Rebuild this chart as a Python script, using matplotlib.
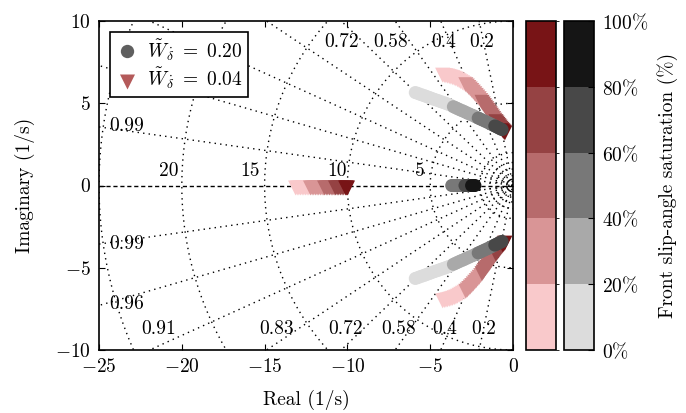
import numpy as np
import matplotlib
matplotlib.use('Agg')
import matplotlib.pyplot as plt
from matplotlib.colors import ListedColormap, BoundaryNorm
from matplotlib.cm import ScalarMappable
from matplotlib.lines import Line2D

plt.rcParams['font.family'] = ['cmr10', 'DejaVu Serif']
plt.rcParams['mathtext.fontset'] = 'cm'
plt.rcParams['axes.formatter.use_mathtext'] = True
plt.rcParams['font.size'] = 14

# saturation colour levels (0-20, 20-40, 40-60, 60-80, 80-100 %)
red_levels = ['#f9c9cb', '#d99596', '#b76b6c', '#954243', '#781416']
grey_levels = ['#dcdcdc', '#a9a9a9', '#787878', '#484848', '#151515']
sat_bounds = [0, 20, 40, 60, 80, 100]

# W = 0.20 (grey circles): complex branch (upper half, mirrored) and real pole
grey_cplx_re = [-5.9, -5.75, -5.6, -5.45, -5.3, -5.15, -5.0, -4.85, -4.7, -4.55, -4.4, -4.25, -4.1, -3.95, -3.8,
                -3.6, -3.45, -3.3, -3.15, -3.0, -2.85, -2.7, -2.55, -2.4, -2.25,
                -2.1, -1.95, -1.8, -1.65, -1.5, -1.35, -1.2,
                -1.1, -0.98, -0.86, -0.76, -0.66]
grey_cplx_im = [5.65, 5.60, 5.54, 5.49, 5.44, 5.38, 5.33, 5.27, 5.22, 5.17, 5.11, 5.06, 5.01, 4.95, 4.90,
                4.79, 4.72, 4.65, 4.58, 4.52, 4.45, 4.38, 4.31, 4.25, 4.17,
                4.10, 4.03, 3.96, 3.89, 3.82, 3.74, 3.67,
                3.62, 3.56, 3.50, 3.45, 3.40]
grey_cplx_sat = [1, 2, 3, 4, 5, 6, 7, 8, 9, 10, 12, 14, 15, 17, 19,
                 21, 23, 25, 27, 29, 31, 33, 35, 37, 39,
                 41, 44, 47, 50, 53, 56, 59,
                 61, 64, 67, 70, 73]
grey_real_re = [-3.7, -3.6, -3.5, -3.4, -3.3, -3.2, -3.1, -3.0,
                -2.9, -2.8, -2.7, -2.6, -2.5, -2.4, -2.3]
grey_real_sat = [41, 43, 46, 48, 51, 53, 56, 58,
                 62, 66, 70, 75, 82, 88, 95]

# W = 0.04 (red triangles): complex branch and real pole
red_cplx_re = [-4.25, -4.15, -4.05, -3.95, -3.85, -3.75, -3.65, -3.55, -3.45, -3.35, -3.25, -3.15, -3.05, -2.95,
               -2.85, -2.76, -2.67, -2.58, -2.49, -2.40, -2.31, -2.22, -2.13, -2.04, -1.95,
               -1.87, -1.80, -1.73, -1.66, -1.59, -1.52, -1.45, -1.38, -1.31, -1.24, -1.17, -1.10,
               -1.03, -0.97, -0.91, -0.85, -0.79, -0.73, -0.67,
               -0.61, -0.55, -0.49]
red_cplx_im = [6.86, 6.84, 6.82, 6.80, 6.77, 6.74, 6.71, 6.67, 6.63, 6.58, 6.52, 6.46, 6.40, 6.34,
               6.28, 6.20, 6.11, 6.02, 5.93, 5.83, 5.73, 5.63, 5.53, 5.43, 5.32,
               5.21, 5.11, 5.01, 4.91, 4.82, 4.72, 4.62, 4.52, 4.42, 4.32, 4.22, 4.12,
               4.03, 3.95, 3.87, 3.79, 3.71, 3.63, 3.56,
               3.48, 3.41, 3.35]
red_cplx_sat = [1, 2, 3, 5, 6, 7, 9, 10, 11, 13, 14, 16, 17, 19,
                21, 23, 24, 26, 28, 30, 31, 33, 35, 37, 39,
                41, 42, 44, 46, 47, 49, 51, 52, 54, 56, 57, 59,
                61, 64, 67, 70, 73, 76, 79,
                84, 90, 96]
red_real_re = [-13.13, -13.03, -12.93, -12.83, -12.73, -12.63, -12.53, -12.43, -12.33,
               -12.23, -12.13, -12.03, -11.93, -11.83, -11.73, -11.63, -11.53, -11.45,
               -11.38, -11.28, -11.18, -11.08, -10.98, -10.88, -10.8,
               -10.72, -10.62, -10.52, -10.42, -10.32, -10.22,
               -10.11, -10.05, -9.99]
red_real_sat = [2, 4, 6, 8, 10, 12, 14, 16, 18,
                21, 23, 25, 27, 29, 31, 33, 36, 39,
                41, 44, 47, 50, 53, 56, 59,
                62, 65, 68, 71, 74, 78,
                84, 90, 96]

# grid
zetas = [0.2, 0.4, 0.58, 0.72, 0.83, 0.91, 0.96, 0.99]
wn_circles = [0.25, 0.6, 1.0, 1.4, 2.0, 5, 10, 15, 20, 25]
wn_labels = ['20', '15', '10', '5']
wn_label_x = [-20.8, -15.9, -10.6, -5.6]
zeta_top = ['0.72', '0.58', '0.4', '0.2']
zeta_top_x = [-10.35, -7.4, -4.2, -1.9]
zeta_bot = ['0.91', '0.83', '0.72', '0.58', '0.4', '0.2']
zeta_bot_x = [-21.4, -14.3, -10.1, -6.9, -4.1, -1.75]
zeta_left = ['0.99', '0.99', '0.96']
zeta_left_y = [3.6, -3.55, -7.2]

cmap_red = ListedColormap(red_levels)
cmap_grey = ListedColormap(grey_levels)
norm = BoundaryNorm(sat_bounds, 5)

tri = [(-0.75, 0.5), (0.75, 0.5), (0.0, -1.0)]

fig = plt.figure(figsize=(6.86, 4.13), dpi=100)
ax = fig.add_axes([99 / 686, 63 / 413, 414 / 686, 329 / 413])

dot = (0, (1, 3))
for z in zetas:
    th = np.arccos(z)
    r = 40
    ax.plot([0, -r * np.cos(th)], [0, r * np.sin(th)], color='k', lw=1, ls=dot)
    ax.plot([0, -r * np.cos(th)], [0, -r * np.sin(th)], color='k', lw=1, ls=dot)
t = np.linspace(np.pi / 2, 3 * np.pi / 2, 300)
for w in wn_circles:
    ax.plot(w * np.cos(t), w * np.sin(t), color='k', lw=1, ls=dot)
ax.plot([-25, 0], [0, 0], color='k', lw=1, ls=(0, (3, 2)))

for lab, x in zip(wn_labels, wn_label_x):
    ax.text(x, 0.9, lab, ha='center', va='center')
for lab, x in zip(zeta_top, zeta_top_x):
    ax.text(x, 8.72, lab, ha='center', va='center')
for lab, x in zip(zeta_bot, zeta_bot_x):
    ax.text(x, -8.72, lab, ha='center', va='center')
for lab, y in zip(zeta_left, zeta_left_y):
    ax.text(-23.3, y, lab, ha='center', va='center')

# red triangles first, grey circles on top
rs = 207
gs = 88
kw_r = dict(cmap=cmap_red, norm=norm, marker=tri, s=rs, linewidths=0, zorder=3)
kw_g = dict(cmap=cmap_grey, norm=norm, marker='o', s=gs, linewidths=0, zorder=4)
ax.scatter(red_cplx_re, red_cplx_im, c=red_cplx_sat, **kw_r)
ax.scatter(red_cplx_re, -np.array(red_cplx_im), c=red_cplx_sat, **kw_r)
ax.scatter(red_real_re, np.zeros(len(red_real_re)), c=red_real_sat, **kw_r)
ax.scatter(grey_cplx_re, grey_cplx_im, c=grey_cplx_sat, **kw_g)
ax.scatter(grey_cplx_re, -np.array(grey_cplx_im), c=grey_cplx_sat, **kw_g)
ax.scatter(grey_real_re, np.zeros(len(grey_real_re)), c=grey_real_sat, **kw_g)

ax.set_xlim(-25, 0)
ax.set_ylim(-10, 10)
ax.set_xticks([-25, -20, -15, -10, -5, 0])
ax.set_yticks([-10, -5, 0, 5, 10])
ax.tick_params(direction='in', top=True, right=True, length=4, width=0.8, pad=6)
for s in ax.spines.values():
    s.set_linewidth(1.2)
ax.set_xlabel('Real (1/s)', labelpad=10)
ax.set_ylabel('Imaginary (1/s)', labelpad=14)

handles = [Line2D([], [], ls='none', marker='o', ms=9.6, color='#5f5f5f', mew=0),
           Line2D([], [], ls='none', marker=tri, ms=14.4, color='#b45a5a', mew=0)]
leg = ax.legend(handles, [r'$\tilde{W}_{\dot{\delta}}\ =\ 0.20$', r'$\tilde{W}_{\dot{\delta}}\ =\ 0.04$'],
                loc='upper left', borderaxespad=0.55, fancybox=False, framealpha=1,
                edgecolor='k', handletextpad=0.4, handlelength=1.2, labelspacing=0.1,
                borderpad=0.3)
leg.get_frame().set_linewidth(1.2)

cax1 = fig.add_axes([526 / 686, 63 / 413, 30 / 686, 329 / 413])
cax2 = fig.add_axes([564 / 686, 63 / 413, 30 / 686, 329 / 413])
cb1 = fig.colorbar(ScalarMappable(norm=norm, cmap=cmap_red), cax=cax1)
cb1.set_ticks([])
cb1.outline.set_linewidth(1.2)
cb2 = fig.colorbar(ScalarMappable(norm=norm, cmap=cmap_grey), cax=cax2)
cb2.set_ticks(sat_bounds)
cb2.set_ticklabels([r'$%d\%%$' % v for v in sat_bounds])
cb2.ax.tick_params(direction='in', length=4, width=0.8, pad=6)
cb2.outline.set_linewidth(1.2)
cb2.set_label('Front slip-angle saturation (%)', labelpad=6)

fig.savefig('out.png', dpi=100)
